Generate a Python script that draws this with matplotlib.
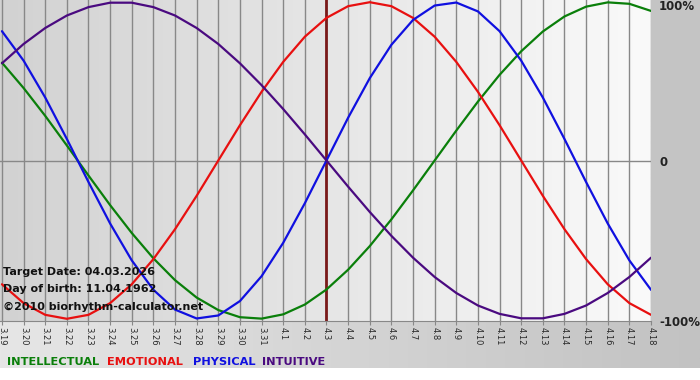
import matplotlib.pyplot as plt
import numpy as np
import matplotlib.colors as mcolors

# day labels (month.day) along the x axis
days = ['3.19', '3.20', '3.21', '3.22', '3.23', '3.24', '3.25', '3.26', '3.27', '3.28',
        '3.29', '3.30', '3.31', '4.1', '4.2', '4.3', '4.4', '4.5', '4.6', '4.7',
        '4.8', '4.9', '4.10', '4.11', '4.12', '4.13', '4.14', '4.15', '4.16', '4.17', '4.18']

# daily values (-1 .. 1)
intellectual = [0.618, 0.458, 0.282, 0.095, -0.095, -0.282, -0.458, -0.618, -0.756, -0.866,
                -0.945, -0.990, -0.999, -0.972, -0.910, -0.815, -0.690, -0.541, -0.372, -0.189,
                0.0, 0.189, 0.372, 0.541, 0.690, 0.815, 0.910, 0.972, 0.999, 0.990, 0.945]
emotional = [-0.782, -0.901, -0.975, -1.0, -0.975, -0.901, -0.782, -0.623, -0.434, -0.223,
             0.0, 0.223, 0.434, 0.623, 0.782, 0.901, 0.975, 1.0, 0.975, 0.901,
             0.782, 0.623, 0.434, 0.223, 0.0, -0.223, -0.434, -0.623, -0.782, -0.901, -0.975]
physical = [0.817, 0.631, 0.398, 0.136, -0.136, -0.398, -0.631, -0.817, -0.942, -0.998,
            -0.979, -0.888, -0.731, -0.520, -0.270, 0.0, 0.270, 0.520, 0.731, 0.888,
            0.979, 0.998, 0.942, 0.817, 0.631, 0.398, 0.136, -0.136, -0.398, -0.631, -0.817]
intuitive = [0.614, 0.736, 0.837, 0.916, 0.969, 0.997, 0.997, 0.969, 0.916, 0.837,
             0.736, 0.614, 0.476, 0.325, 0.165, 0.0, -0.165, -0.325, -0.476, -0.614,
             -0.736, -0.837, -0.916, -0.969, -0.997, -0.997, -0.969, -0.916, -0.837, -0.736, -0.614]

target_day = '4.3'
series_names = ['INTELLECTUAL', 'EMOTIONAL', 'PHYSICAL', 'INTUITIVE']
series_colors = ['#0a7f0a', '#e81010', '#1010e0', '#4a0a80']

W, H = 700, 380
fig = plt.figure(figsize=(W / 100, H / 100), dpi=100)

# background panel in pixel coords
bg = fig.add_axes([0, 0, 1, 1], zorder=-5)
bg.set_xlim(0, W)
bg.set_ylim(H, 0)
bg.axis('off')
grad = np.linspace(0, 1, 256).reshape(1, -1)
bottom_cmap = mcolors.LinearSegmentedColormap.from_list('b', ['#e6e6e6', '#c2c2c2'])
bg.imshow(grad, cmap=bottom_cmap, extent=[0, W, 368, 321], aspect='auto')
bg.add_patch(plt.Rectangle((651, 0), W - 651, 321, color='#c4c4c4', lw=0))

ax = fig.add_axes([0, 59 / H, 651 / W, 321 / H])
x = np.arange(len(days))
ax.set_xlim(-0.09, len(days) - 1)
ax.set_ylim(-1.014, 1.014)

plot_cmap = mcolors.LinearSegmentedColormap.from_list('p', ['#d2d2d2', '#fafafa'])
ax.imshow(grad, cmap=plot_cmap, extent=[-0.09, len(days) - 1, -1.014, 1.014],
          aspect='auto', zorder=0)

for xi in x:
    ax.axvline(xi, color='#888888', lw=1, zorder=1)
ax.axhline(0, color='#888888', lw=1, zorder=1)

ax.axvline(days.index(target_day), color='#7a1a1a', lw=2, zorder=2)

for vals, col in zip([intellectual, emotional, physical, intuitive], series_colors):
    ax.plot(x, vals, color=col, lw=1.6, zorder=3, solid_capstyle='round')

ax.set_xticks(x)
ax.set_xticklabels(days, rotation=270, fontsize=6, color='#2a2a2a')
ax.tick_params(axis='x', length=3, color='#888888', pad=1)
ax.set_yticks([])
for s in ['top', 'left', 'right']:
    ax.spines[s].set_visible(False)
ax.spines['bottom'].set_color('#888888')

info = ['Target Date: 04.03.2026', 'Day of birth: 11.04.1962', '\u00a92010 biorhythm-calculator.net']
for line, ypx in zip(info, [272, 289, 307]):
    fig.text(3 / W, 1 - ypx / H, line, fontsize=8, fontweight='bold',
             color='#111111', va='center', ha='left', zorder=10)

for lab, ypx in zip(['100%', '0', '-100%'], [7, 162, 322]):
    fig.text(659 / W, 1 - ypx / H, lab, fontsize=8.5, fontweight='bold',
             color='#222222', va='center', ha='left')

for name, col, xpx in zip(series_names, series_colors, [7, 107, 193, 262]):
    fig.text(xpx / W, 1 - 362 / H, name, fontsize=8.2, fontweight='bold',
             color=col, va='center', ha='left')

fig.savefig('out.png', dpi=100)
